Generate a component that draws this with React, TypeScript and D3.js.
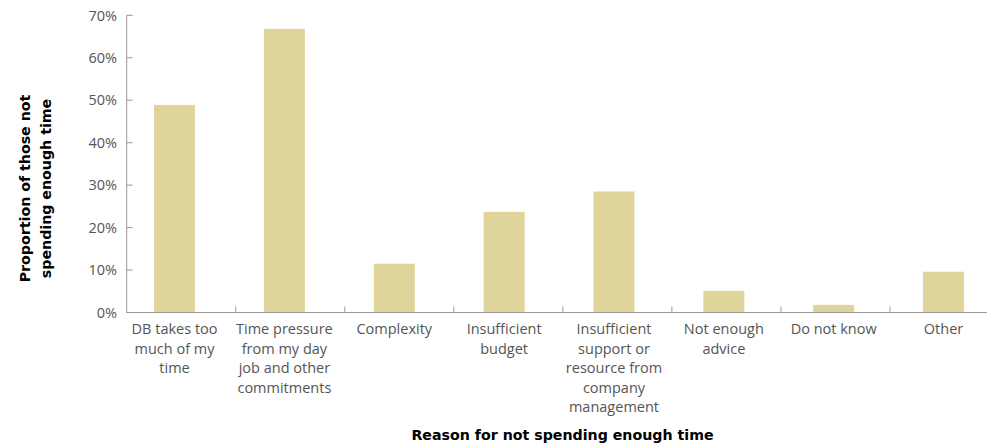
import React from "react";
import * as d3 from "d3";

const categories: string[][] = [
  ["DB takes too", "much of my", "time"],
  ["Time pressure", "from my day", "job and other", "commitments"],
  ["Complexity"],
  ["Insufficient", "budget"],
  ["Insufficient", "support or", "resource from", "company", "management"],
  ["Not enough", "advice"],
  ["Do not know"],
  ["Other"],
];
const values: number[] = [48.9, 66.8, 11.5, 23.7, 28.5, 5.1, 1.8, 9.6];
const yTicks: number[] = [0, 10, 20, 30, 40, 50, 60, 70];
const yTitle: string[] = ["Proportion of those not", "spending enough time"];
const xTitle = "Reason for not spending enough time";

const W = 987;
const H = 446;
const FONT = "'Open Sans', 'Noto Sans', sans-serif";
const BOLD = "'DejaVu Sans', 'Open Sans', sans-serif";

export default function App() {
  const y = d3.scaleLinear().domain([0, 70]).range([312.5, 15.3]);
  const idx = categories.map((_, i) => String(i));
  const xBar = d3.scaleBand().domain(idx).range([119.6, 998.5]).paddingInner(0).paddingOuter(0);
  const xTick = d3.scaleBand().domain(idx).range([126.7, 999]);
  const barW = 41;
  const axisX = 126.7;
  const y0 = y(0);

  return (
    <svg width={W} height={H} style={{ position: "absolute", left: 0, top: 0, background: "#fff" }}>
      {/* bars */}
      {values.map((v, i) => {
        const cx = (xBar(String(i)) as number) + xBar.bandwidth() / 2;
        return (
          <rect key={i} x={cx - barW / 2} y={y(v)} width={barW} height={y0 - y(v)} fill="#DFD59A" />
        );
      })}
      {/* y axis */}
      <line x1={axisX} x2={axisX} y1={y(70)} y2={y0} stroke="#9a9a9a" strokeWidth={1} />
      {yTicks.map((t) => (
        <g key={t}>
          <line x1={axisX} x2={axisX + 6} y1={y(t)} y2={y(t)} stroke="#9a9a9a" strokeWidth={1} />
          <text x={117} y={y(t)} dy="0.36em" textAnchor="end" fontFamily={FONT} fontSize={14.5} fill="#555">
            {t}%
          </text>
        </g>
      ))}
      {/* x axis */}
      <line x1={axisX} x2={W} y1={y0} y2={y0} stroke="#9a9a9a" strokeWidth={1.2} />
      {idx.slice(1).map((k) => {
        const tx = xTick(k) as number;
        return <line key={k} x1={tx} x2={tx} y1={y0} y2={y0 - 6} stroke="#9a9a9a" strokeWidth={1} />;
      })}
      {categories.map((lines, i) => {
        const cx = (xBar(String(i)) as number) + xBar.bandwidth() / 2;
        return (
          <text key={i} textAnchor="middle" fontFamily={FONT} fontSize={14.5} fill="#555">
            {lines.map((l, j) => (
              <tspan key={j} x={cx} y={334 + j * 19.5}>
                {l}
              </tspan>
            ))}
          </text>
        );
      })}
      {/* titles */}
      <text x={562.5} y={440} textAnchor="middle" fontFamily={BOLD} fontWeight={700} fontSize={14.2} fill="#000">
        {xTitle}
      </text>
      <g transform="translate(0,188.5) rotate(-90)">
        {yTitle.map((l, j) => (
          <text key={j} x={0} y={30 + j * 20.5} textAnchor="middle" fontFamily={BOLD} fontWeight={700} fontSize={14.2} fill="#000">
            {l}
          </text>
        ))}
      </g>
    </svg>
  );
}
